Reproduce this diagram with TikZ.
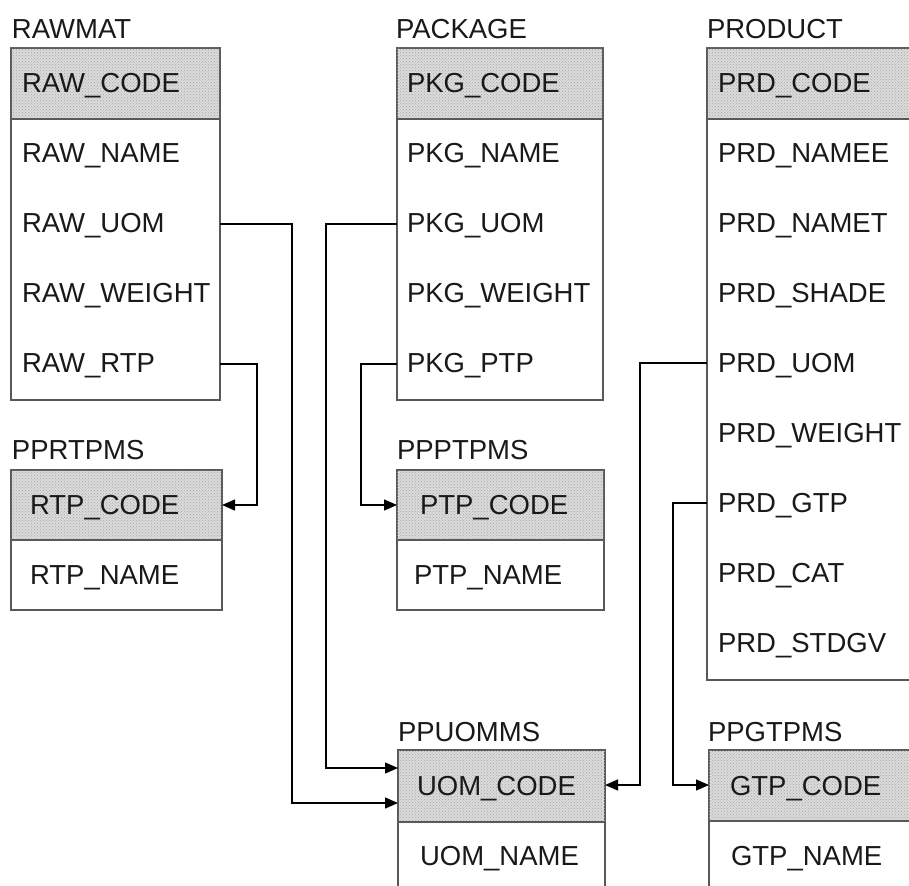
\documentclass[tikz,border=0pt]{standalone}
\usepackage{fontspec}
\setmainfont{Liberation Sans}
\usetikzlibrary{arrows.meta,patterns}
\definecolor{hdrgray}{gray}{0.86}
\definecolor{boxline}{gray}{0.35}
\tikzset{
  tbl/.style={draw=boxline, line width=1.1pt, inner sep=0pt, outer sep=0pt, rectangle},
  tblhead/.style={tbl, fill=hdrgray, postaction={pattern=crosshatch dots, pattern color=gray!70}},
  txt/.style={inner sep=0pt, outer sep=0pt, anchor=base west, text=black!90, font=\fontsize{27.5}{30}\selectfont},
  conn/.style={draw=black, line width=1.4pt, -{Triangle[length=13pt,width=11pt]}},
}
\begin{document}
\begin{tikzpicture}[x=1pt,y=-1pt]
\useasboundingbox (0,0) rectangle (909,885);
\clip (0,0) rectangle (909,885);
\fill[white] (0,0) rectangle (909,885);
% RAWMAT
\node[txt] (rawmat) at (12,38.5) {RAWMAT};
\node[tblhead, minimum width=209, minimum height=71] (rawhead) at (115.5,83.5) {};
\node[tbl, minimum width=209, minimum height=281] (rawbody) at (115.5,259.5) {};
\node[txt] (rawcode) at (22,93) {RAW\_CODE};
\node[txt] (rawname) at (22,162.5) {RAW\_NAME};
\node[txt] (rawuom) at (22,232.5) {RAW\_UOM};
\node[txt] (rawweight) at (22,302.5) {RAW\_WEIGHT};
\node[txt] (rawrtp) at (22,372.5) {RAW\_RTP};
% PPRTPMS
\node[txt] (pprtpms) at (12,459.5) {PPRTPMS};
\node[tblhead, minimum width=211, minimum height=70] (rtphead) at (116.5,505) {};
\node[tbl, minimum width=211, minimum height=70] (rtpbody) at (116.5,575) {};
\node[txt] (rtpcode) at (30,514.5) {RTP\_CODE};
\node[txt] (rtpname) at (30,584.5) {RTP\_NAME};
% PACKAGE
\node[txt] (package) at (396,38.5) {PACKAGE};
\node[tblhead, minimum width=206, minimum height=71] (pkghead) at (500,83.5) {};
\node[tbl, minimum width=206, minimum height=281] (pkgbody) at (500,259.5) {};
\node[txt] (pkgcode) at (407,93) {PKG\_CODE};
\node[txt] (pkgname) at (407,162.5) {PKG\_NAME};
\node[txt] (pkguom) at (407,232.5) {PKG\_UOM};
\node[txt] (pkgweight) at (407,302.5) {PKG\_WEIGHT};
\node[txt] (pkgptp) at (407,372.5) {PKG\_PTP};
% PPPTPMS
\node[txt] (ppptpms) at (397,459.5) {PPPTPMS};
\node[tblhead, minimum width=207, minimum height=70] (ptphead) at (500.5,505) {};
\node[tbl, minimum width=207, minimum height=70] (ptpbody) at (500.5,575) {};
\node[txt] (ptpcode) at (420,514.5) {PTP\_CODE};
\node[txt] (ptpname) at (414,584.5) {PTP\_NAME};
% PRODUCT
\node[txt] (product) at (707,38.5) {PRODUCT};
\node[tblhead, minimum width=223, minimum height=71] (prdhead) at (818.5,83.5) {};
\node[tbl, minimum width=223, minimum height=561] (prdbody) at (818.5,399.5) {};
\node[txt] (prdcode) at (718,93) {PRD\_CODE};
\node[txt] (prdnamee) at (718,162.5) {PRD\_NAMEE};
\node[txt] (prdnamet) at (718,232.5) {PRD\_NAMET};
\node[txt] (prdshade) at (718,302.5) {PRD\_SHADE};
\node[txt] (prduom) at (718,372.5) {PRD\_UOM};
\node[txt] (prdweight) at (718,442.5) {PRD\_WEIGHT};
\node[txt] (prdgtp) at (718,512.5) {PRD\_GTP};
\node[txt] (prdcat) at (718,582.5) {PRD\_CAT};
\node[txt] (prdstdgv) at (718,652.5) {PRD\_STDGV};
% PPUOMMS
\node[txt] (ppuomms) at (398,741.5) {PPUOMMS};
\node[tblhead, minimum width=207, minimum height=72] (uomhead) at (501.5,786) {};
\node[tbl, minimum width=207, minimum height=78] (uombody) at (501.5,861) {};
\node[txt] (uomcode) at (417,795.5) {UOM\_CODE};
\node[txt] (uomname) at (420,865.5) {UOM\_NAME};
% PPGTPMS
\node[txt] (ppgtpms) at (708,741.5) {PPGTPMS};
\node[tblhead, minimum width=221, minimum height=71] (gtphead) at (819.5,785.5) {};
\node[tbl, minimum width=221, minimum height=79] (gtpbody) at (819.5,860.5) {};
\node[txt] (gtpcode) at (730,795) {GTP\_CODE};
\node[txt] (gtpname) at (731,865.5) {GTP\_NAME};
% connectors
\draw[conn] (rawbody.east |- 0,224) -| (292,803) -- (uomhead.west |- 0,803);
\draw[conn] (pkgbody.west |- 0,224) -| (326,768) -- (uomhead.west |- 0,768);
\draw[conn] (rawbody.east |- 0,364) -| (257,505) -- (rtphead.east |- 0,505);
\draw[conn] (pkgbody.west |- 0,364) -| (361,505) -- (ptphead.west |- 0,505);
\draw[conn] (prdbody.west |- 0,363) -| (640,785) -- (uomhead.east |- 0,785);
\draw[conn] (prdbody.west |- 0,503) -| (673,785) -- (gtphead.west |- 0,785);
\end{tikzpicture}
\end{document}
